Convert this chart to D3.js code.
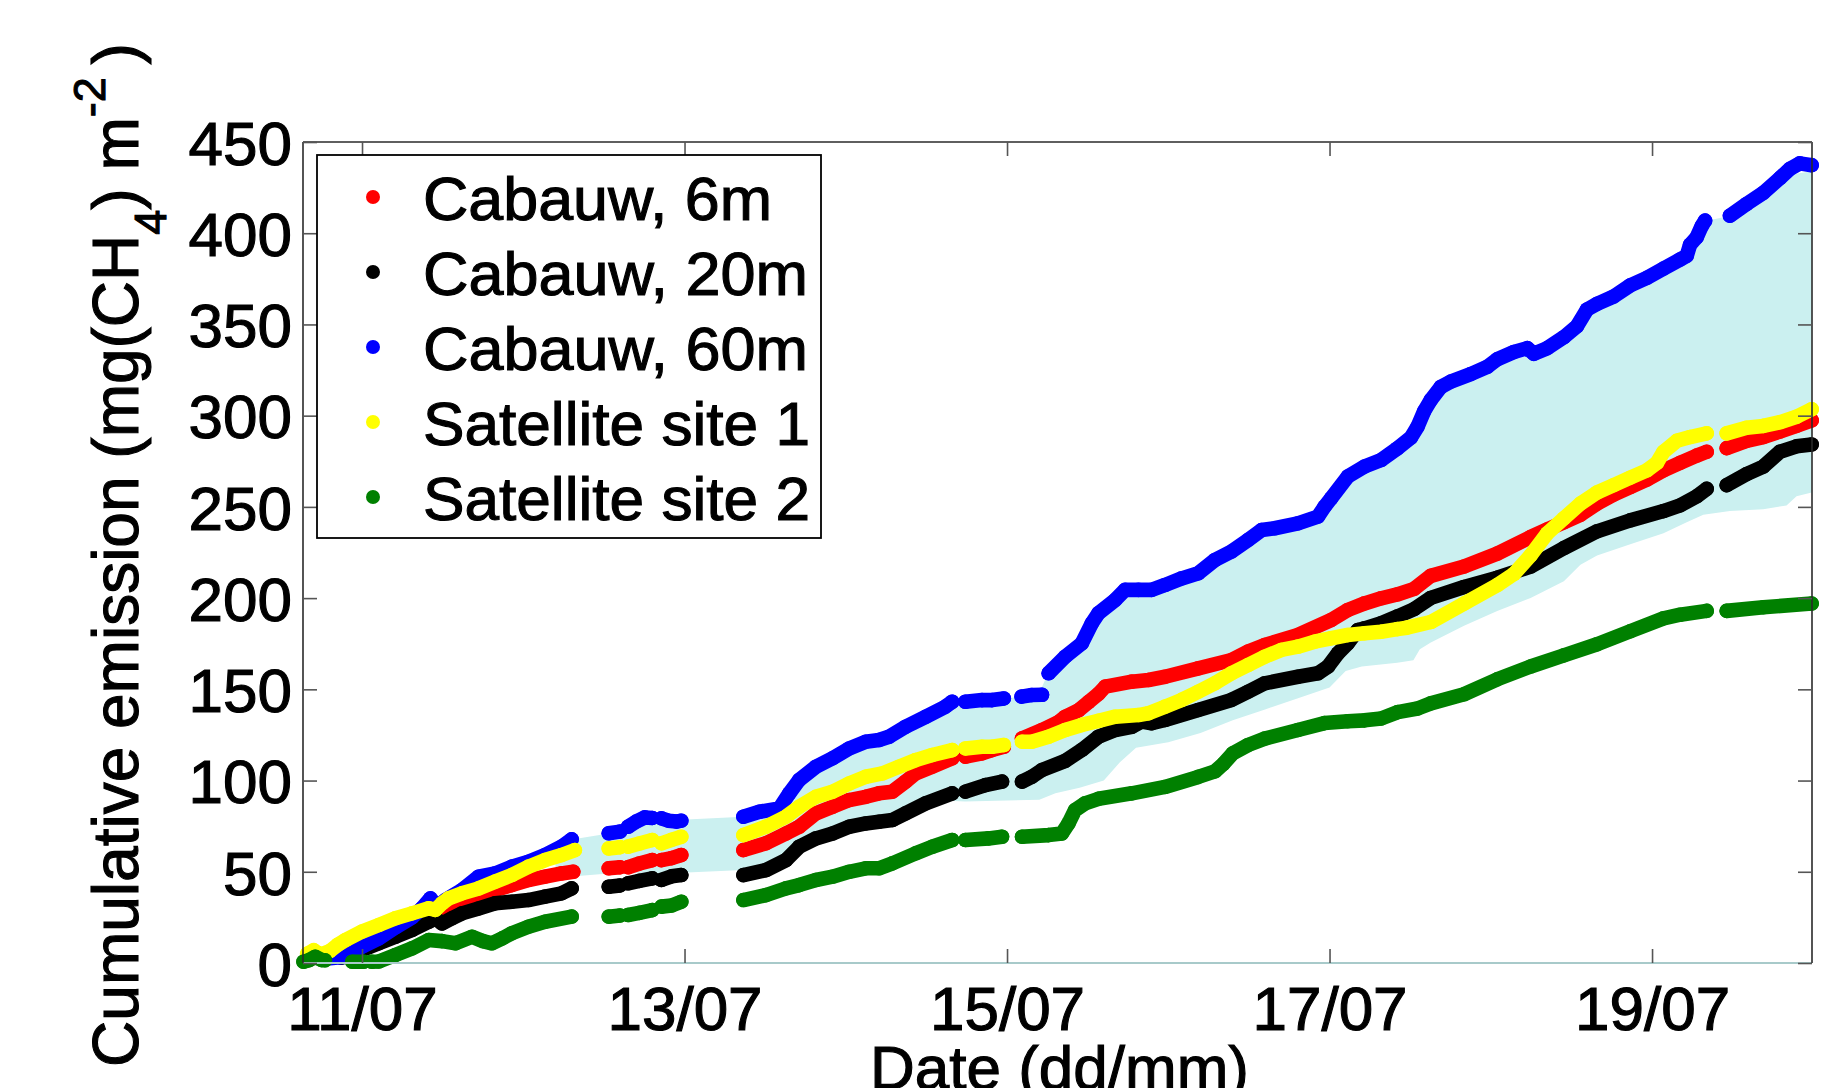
<!DOCTYPE html>
<html><head><meta charset="utf-8">
<script src="https://cdn.jsdelivr.net/npm/d3@7"></script>
<style>html,body{margin:0;padding:0;background:#fff;overflow:hidden}</style>
</head><body>
<svg id="chart" width="1839" height="1088"></svg>
<script>
// ---------------- data ----------------
const xTicks = [11, 13, 15, 17, 19];
const xTickLabels = ["11/07", "13/07", "15/07", "17/07", "19/07"];
const yTicks = [0, 50, 100, 150, 200, 250, 300, 350, 400, 450];
const seriesNames = ["Cabauw, 6m", "Cabauw, 20m", "Cabauw, 60m", "Satellite site 1", "Satellite site 2"];
const seriesColors = ["#ff0000", "#000000", "#0000ff", "#ffff00", "#008000"];

// [day of July, cumulative emission]; null = data gap
const cabauw6m = [
 [10.65,1.5],[10.70,3],[10.795,5.5],[10.898,10.5],[11.0,15],[11.104,19],[11.207,22.5],[11.31,25],[11.414,27],[11.475,26.3],[11.517,29.1],[11.62,32.7],[11.723,36.4],[11.826,40],[11.929,42.7],[12.032,45.5],[12.135,47.3],[12.238,49.1],[12.31,50],
 null,[12.53,51.9],[12.60,52.5],
 null,[12.65,52.5],[12.72,54.5],[12.80,56.4],
 null,[12.857,56.4],[12.92,57.5],[12.98,59.2],
 null,[13.365,61.9],[13.505,65.6],[13.629,71],[13.711,74.7],[13.815,82],[13.918,85.6],[14.021,89.3],[14.124,91.1],[14.206,93],[14.289,93.9],[14.371,99.4],[14.433,103.9],[14.536,107.6],[14.66,112.2],
 null,[14.742,113.1],[14.845,114.9],[14.907,116.7],[14.98,118.5],
 null,[15.093,123.1],[15.217,127.7],[15.319,132],[15.361,135],[15.443,138.5],[15.505,143],[15.567,147.5],[15.609,151.5],[15.774,154.2],[15.877,155.1],[15.98,156.9],[16.186,161.5],[16.392,166.1],[16.495,170.7],[16.598,174.3],[16.804,179.8],[17.01,188],[17.113,193.5],[17.217,197.1],[17.32,199.9],[17.42,202],[17.525,205.1],[17.628,212.2],[17.834,217.3],[18.04,224.4],[18.247,233.5],[18.35,237.6],[18.453,241.6],[18.556,245.7],[18.659,251.8],[18.762,256.8],[18.865,260.9],[18.968,265],[19.071,270],[19.174,274.1],[19.277,278.1],[19.339,280.2],
 null,[19.463,282.2],[19.586,286.2],[19.69,288.3],[19.793,291.3],[19.896,294.4],[19.99,297.4]
];
const cabauw20m = [
 [10.87,3],[10.94,4.4],[11.0,7.1],[11.104,10.8],[11.207,14.4],[11.31,18.1],[11.414,22.6],[11.455,24.5],[11.496,21.7],[11.558,24.5],[11.62,27.2],[11.723,29.9],[11.826,32.7],[11.929,33.6],[12.032,34.5],[12.135,36.4],[12.238,38.2],[12.30,40.9],
 null,[12.53,41.8],[12.60,42.5],
 null,[12.65,43.7],[12.72,45],[12.80,46.4],
 null,[12.857,45.5],[12.92,47.5],[12.98,48.2],
 null,[13.365,48.2],[13.505,50.9],[13.629,56.4],[13.711,63.7],[13.815,68.3],[13.918,71],[14.021,74.7],[14.124,76.5],[14.206,77.4],[14.289,78.4],[14.371,82],[14.495,87.5],[14.66,93],
 null,[14.742,93.9],[14.866,97.5],[14.969,99.4],
 null,[15.093,99.4],[15.154,102.1],[15.217,105.8],[15.361,110.8],[15.464,116.8],[15.567,124],[15.671,127.7],[15.774,129.5],[15.835,132.3],[15.897,131.4],[15.98,133.2],[16.186,138.7],[16.392,144.2],[16.495,148.7],[16.598,153.3],[16.804,156.9],[16.928,158.8],[16.99,162.4],[17.052,169.7],[17.113,175.2],[17.175,182.5],[17.217,183.4],[17.32,186.2],[17.423,190],[17.525,194],[17.628,200.1],[17.834,206.1],[18.04,211.2],[18.247,217.3],[18.453,227.4],[18.659,236.6],[18.865,242.6],[19.071,247.7],[19.174,250.8],[19.277,255.8],[19.339,259.9],
 null,[19.463,261.9],[19.586,268],[19.69,272.1],[19.793,280.2],[19.896,283.2],[19.99,284.2]
];
const cabauw60m = [
 [10.785,2.5],[10.898,3.4],[11.0,9],[11.104,13.5],[11.207,19.5],[11.31,25],[11.372,30],[11.424,35.4],[11.465,31],[11.517,34.5],[11.62,40],[11.723,47.3],[11.826,49.1],[11.929,52.8],[12.032,55.5],[12.135,59.2],[12.238,63.8],[12.30,67.8],
 null,[12.53,71.1],[12.60,72],
 null,[12.65,74.7],[12.70,77.5],[12.754,79.8],[12.80,79.5],
 null,[12.857,79.3],[12.90,78],[12.95,77.5],[12.98,78],
 null,[13.365,80.2],[13.464,82.9],[13.588,84.7],[13.65,93],[13.711,100.3],[13.815,107.6],[13.918,112.2],[14.021,117.6],[14.124,121.3],[14.206,122.2],[14.268,124],[14.371,129.5],[14.495,134.9],[14.618,140.5],[14.66,143.2],
 null,[14.742,143.2],[14.845,144.1],[14.907,144.1],[14.98,145],
 null,[15.09,146],[15.154,146.9],[15.217,147],
 null,[15.258,158.8],[15.361,167.9],[15.464,175.2],[15.526,186.2],[15.567,191.7],[15.671,199],[15.732,204.5],[15.815,204.5],[15.897,204.5],[15.98,207.2],[16.083,210.8],[16.186,213.6],[16.289,220.9],[16.392,225.5],[16.495,231.9],[16.578,237.3],[16.66,238.3],[16.804,241],[16.928,244.7],[16.969,250.1],[17.01,254.7],[17.113,266.6],[17.217,272.1],[17.32,275.7],[17.42,282],[17.505,288],[17.546,294],[17.587,302.5],[17.628,308.6],[17.69,315.7],[17.752,318.7],[17.875,322.8],[17.979,326.8],[18.04,330.9],[18.143,334.9],[18.226,337],[18.267,333.9],[18.35,337],[18.453,343],[18.535,349.1],[18.597,358.2],[18.659,361.3],[18.762,365.3],[18.865,371.4],[18.968,375.5],[19.071,380.6],[19.174,385.6],[19.215,387.6],[19.236,393.7],[19.277,397.8],[19.308,403.9],[19.329,406.9],
 null,[19.483,409.6],[19.586,416],[19.69,422.1],[19.793,430.2],[19.855,435.3],[19.916,438.3],[19.99,437.3]
];
const satellite1 = [
 [10.66,5],[10.70,7],[10.74,4.5],[10.80,6.5],[10.85,10],[10.898,12.6],[11.0,17.2],[11.104,20.8],[11.207,24.5],[11.31,27.2],[11.414,30],[11.455,29.1],[11.496,32.7],[11.537,35.4],[11.62,38.2],[11.723,40.9],[11.826,44.6],[11.929,48.2],[12.032,52.8],[12.135,56.4],[12.238,59.2],[12.32,61.9],
 null,[12.53,62.8],[12.60,63.5],
 null,[12.65,63.8],[12.72,65.5],[12.80,67.4],
 null,[12.857,65.6],[12.92,67.5],[12.98,69.2],
 null,[13.365,70.1],[13.505,74.7],[13.629,80.2],[13.711,85.6],[13.815,91.1],[13.918,93.9],[14.021,98.4],[14.124,102.1],[14.227,103.9],[14.33,107.6],[14.433,111.2],[14.536,114],[14.66,116.7],
 null,[14.742,117.6],[14.845,118.5],[14.907,118.5],[14.98,119.5],
 null,[15.093,121.3],[15.154,121.3],[15.257,124],[15.361,127.7],[15.464,130.5],[15.567,132.7],[15.671,135],[15.815,135.9],[15.877,136.9],[15.98,140.5],[16.083,144.2],[16.186,148.7],[16.289,153.3],[16.392,158.8],[16.495,163.3],[16.598,167.9],[16.701,171.6],[16.804,173.4],[16.907,176.1],[17.01,178],[17.113,179.8],[17.217,180.7],[17.32,181.6],[17.42,183],[17.48,183.8],[17.628,186.9],[17.834,197],[18.04,207.1],[18.143,213.2],[18.247,223.4],[18.35,235.5],[18.453,243.7],[18.556,251.8],[18.659,257.9],[18.762,261.9],[18.865,266],[18.968,270],[19.03,274.1],[19.071,280.2],[19.154,286.2],[19.236,288.3],[19.339,290.3],
 null,[19.463,290.3],[19.586,293.4],[19.69,294.4],[19.793,296.4],[19.896,299.4],[19.99,303.5]
];
const satellite2 = [
 [10.637,0.7],[10.67,1.5],[10.71,3.4],[10.75,1.6],[10.77,1.5],
 null,[10.94,0.7],[11.01,0.7],
 null,[11.06,0.7],[11.104,0.8],[11.207,4.4],[11.31,8],[11.414,12.6],[11.496,12],[11.58,10.8],[11.682,14.4],[11.75,12],[11.805,10.8],[11.87,13.5],[11.929,16.3],[12.032,19.9],[12.135,22.6],[12.30,25.4],
 null,[12.53,25.4],[12.60,26],
 null,[12.65,26.3],[12.72,27.5],[12.80,29],
 null,[12.857,30.9],[12.92,31.5],[12.98,33.6],
 null,[13.365,34.5],[13.505,37.2],[13.629,40.9],[13.711,42.7],[13.815,45.5],[13.918,47.3],[14.021,50],[14.124,51.9],[14.206,51.9],[14.289,54.6],[14.433,60.1],[14.536,63.7],[14.66,67.4],
 null,[14.742,67.4],[14.886,68.3],[14.969,69.2],
 null,[15.093,69.2],[15.257,70.1],[15.34,71],[15.381,76.5],[15.422,83.8],[15.484,87.5],[15.567,90],[15.774,93],[15.98,96.5],[16.186,102],[16.289,105],[16.34,109],[16.40,114.9],[16.495,119.5],[16.598,123],[16.804,127.7],[16.969,131.5],[17.113,132.5],[17.217,133],[17.32,134],[17.423,137.5],[17.546,139.5],[17.628,142.3],[17.834,147.3],[18.04,155.5],[18.247,162.5],[18.453,168.6],[18.659,174.7],[18.865,181.8],[19.071,188.9],[19.174,190.9],[19.339,193],
 null,[19.463,193],[19.69,195],[19.99,197]
];
const seriesData = [cabauw6m, cabauw20m, cabauw60m, satellite1, satellite2];

// shaded range (upper and lower edges)
const bandUpper = [
 [12.2,62],[12.32,68],[12.53,71],[12.65,74.7],[12.754,79.8],[12.98,78.5],[13.365,80.2],[13.464,82.9],[13.588,84.7],[13.65,93],[13.711,100.3],[13.815,107.6],[13.918,112.2],[14.021,117.6],[14.124,121.3],[14.268,124],[14.371,129.5],[14.495,134.9],[14.618,140.5],[14.742,143.2],[14.907,144.1],[15.09,146],[15.2,148],[15.24,156],[15.361,167.9],[15.464,175.2],[15.526,186.2],[15.567,191.7],[15.671,199],[15.732,204.5],[15.897,204.5],[15.98,207.2],[16.083,210.8],[16.186,213.6],[16.289,220.9],[16.392,225.5],[16.495,231.9],[16.578,237.3],[16.66,238.3],[16.804,241],[16.928,244.7],[16.969,250.1],[17.01,254.7],[17.113,266.6],[17.217,272.1],[17.32,275.7],[17.42,282],[17.505,288],[17.546,294],[17.587,302.5],[17.628,308.6],[17.69,315.7],[17.752,318.7],[17.875,322.8],[17.979,326.8],[18.04,330.9],[18.143,334.9],[18.226,337],[18.267,333.9],[18.35,337],[18.453,343],[18.535,349.1],[18.597,358.2],[18.659,361.3],[18.762,365.3],[18.865,371.4],[18.968,375.5],[19.071,380.6],[19.174,385.6],[19.215,387.6],[19.236,393.7],[19.277,397.8],[19.308,403.9],[19.329,406.9],[19.40,408],[19.483,409.6],[19.586,416],[19.69,422.1],[19.793,429],[19.855,432],[19.99,434]
];
const bandLower = [
 [12.2,47.5],[12.32,47.5],[12.53,49],[12.98,49.5],[13.365,51],[13.5,52],[13.65,58],[13.8,66],[13.95,72],[14.1,76],[14.3,79],[14.45,85],[14.6,89],[14.74,88.5],[15.0,89],[15.2,89.5],[15.3,93],[15.45,96],[15.6,100],[15.7,110],[15.8,118],[16.0,121],[16.2,126],[16.4,133],[16.6,139],[16.8,145],[17.0,151],[17.1,160],[17.2,162.5],[17.42,164.6],[17.52,166],[17.56,172],[17.628,175.7],[17.834,184.8],[18.04,193],[18.247,200.1],[18.453,209.2],[18.556,218.3],[18.659,223.4],[18.865,229.5],[19.071,235.5],[19.215,241.6],[19.318,245.7],[19.483,247.7],[19.69,248.7],[19.834,250.8],[19.896,255.8],[19.99,257.9]
];

// ---------------- drawing ----------------
const W = 1839, H = 1088;
const plot = {left: 303, right: 1812, top: 142, bottom: 963};
const FONT = "'Liberation Sans', Arial, Helvetica, sans-serif";
const FS = 62;
const TXT_STROKE = 1.1;

const svg = d3.select("#chart");
svg.append("rect").attr("width", W).attr("height", H).attr("fill", "#fff");

const x = d3.scaleLinear().domain([10.634, 19.992]).range([plot.left, plot.right]);
const y = d3.scaleLinear().domain([0, 450]).range([plot.bottom, plot.top]);

function styleText(sel, size) {
  sel.attr("font-family", FONT).attr("font-size", size).attr("fill", "#000")
     .attr("stroke", "#000").attr("stroke-width", TXT_STROKE).attr("paint-order", "stroke");
}

// band
const bandPts = bandUpper.concat(bandLower.slice().reverse());
const polyLine = d3.line().x(d => x(d[0])).y(d => y(d[1]));
svg.append("path").attr("d", polyLine(bandPts) + "Z")
  .attr("fill", "#cbf0f0").attr("stroke", "none");

// series
const R = 7.3;
const lineGen = d3.line().defined(d => d !== null).x(d => x(d[0])).y(d => y(d[1]));
seriesData.forEach((data, i) => {
  const g = svg.append("g");
  g.append("path").attr("d", lineGen(data))
    .attr("fill", "none").attr("stroke", seriesColors[i])
    .attr("stroke-width", 2 * R).attr("stroke-linecap", "round").attr("stroke-linejoin", "round");
  g.selectAll("circle").data(data.filter(d => d !== null)).enter().append("circle")
    .attr("cx", d => x(d[0])).attr("cy", d => y(d[1])).attr("r", R).attr("fill", seriesColors[i]);
});

// axes box
const axisColor = "#2a2a2a";
svg.append("line").attr("x1", plot.left).attr("x2", plot.right).attr("y1", plot.bottom).attr("y2", plot.bottom)
  .attr("stroke", "#a8caca").attr("stroke-width", 2.2);
svg.append("line").attr("x1", plot.left).attr("x2", plot.right).attr("y1", plot.top).attr("y2", plot.top)
  .attr("stroke", axisColor).attr("stroke-width", 1.6);
svg.append("line").attr("x1", plot.left).attr("x2", plot.left).attr("y1", plot.top).attr("y2", plot.bottom)
  .attr("stroke", axisColor).attr("stroke-width", 1.6);
svg.append("line").attr("x1", plot.right).attr("x2", plot.right).attr("y1", plot.top).attr("y2", plot.bottom)
  .attr("stroke", axisColor).attr("stroke-width", 1.6);

const TL = 14;
// y axis (left)
const yAxis = d3.axisLeft(y).tickValues(yTicks).tickSize(-TL).tickPadding(11).tickFormat(d3.format("d"));
const gy = svg.append("g").attr("transform", `translate(${plot.left},0)`).call(yAxis);
gy.select(".domain").remove();
gy.selectAll(".tick line").attr("stroke", "#555").attr("stroke-width", 1.6);
gy.selectAll(".tick text").call(styleText, FS).attr("dy", "0.36em");
// right ticks
const yAxisR = d3.axisRight(y).tickValues(yTicks).tickSize(-TL).tickFormat("");
const gyr = svg.append("g").attr("transform", `translate(${plot.right},0)`).call(yAxisR);
gyr.select(".domain").remove();
gyr.selectAll(".tick line").attr("stroke", "#555").attr("stroke-width", 1.6);

// x axis (bottom)
const xAxis = d3.axisBottom(x).tickValues(xTicks).tickSize(-TL).tickPadding(23)
  .tickFormat((d, i) => xTickLabels[i]);
const gx = svg.append("g").attr("transform", `translate(0,${plot.bottom})`).call(xAxis);
gx.select(".domain").remove();
gx.selectAll(".tick line").attr("stroke", "#555").attr("stroke-width", 1.6);
gx.selectAll(".tick text").call(styleText, FS).attr("dy", "0.71em");
const xAxisT = d3.axisTop(x).tickValues(xTicks).tickSize(-TL).tickFormat("");
const gxt = svg.append("g").attr("transform", `translate(0,${plot.top})`).call(xAxisT);
gxt.select(".domain").remove();
gxt.selectAll(".tick line").attr("stroke", "#555").attr("stroke-width", 1.6);

// axis titles
svg.append("text").attr("x", (plot.left + plot.right) / 2 + 2).attr("y", 1089)
  .attr("text-anchor", "middle").call(styleText, FS)
  .text("Date (dd/mm)");

const yl = svg.append("text").attr("transform", "translate(138,555) rotate(-90)")
  .attr("text-anchor", "middle").call(styleText, 64);
yl.append("tspan").text("Cumulative emission (mg(CH");
yl.append("tspan").attr("dy", 28).attr("font-size", 45).text("4");
yl.append("tspan").attr("dy", -28).text(") m");
yl.append("tspan").attr("dy", -33).attr("font-size", 45).text("-2");
yl.append("tspan").attr("dy", 33).text("\u2009)");

// legend
const leg = {x: 317, y: 155, w: 504, h: 383};
svg.append("rect").attr("x", leg.x).attr("y", leg.y).attr("width", leg.w).attr("height", leg.h)
  .attr("fill", "#fff").attr("stroke", "#000").attr("stroke-width", 1.8);
const rowY = [197, 272, 347, 422, 497];
const legTextLen = [349, 385, 385, 387, 387];
seriesNames.forEach((name, i) => {
  svg.append("circle").attr("cx", 373).attr("cy", rowY[i]).attr("r", 7).attr("fill", seriesColors[i]);
  svg.append("text").attr("x", 423).attr("y", rowY[i] + 23)
    .call(styleText, FS)
    .attr("textLength", legTextLen[i]).attr("lengthAdjust", "spacingAndGlyphs")
    .text(name);
});
</script>
</body></html>
